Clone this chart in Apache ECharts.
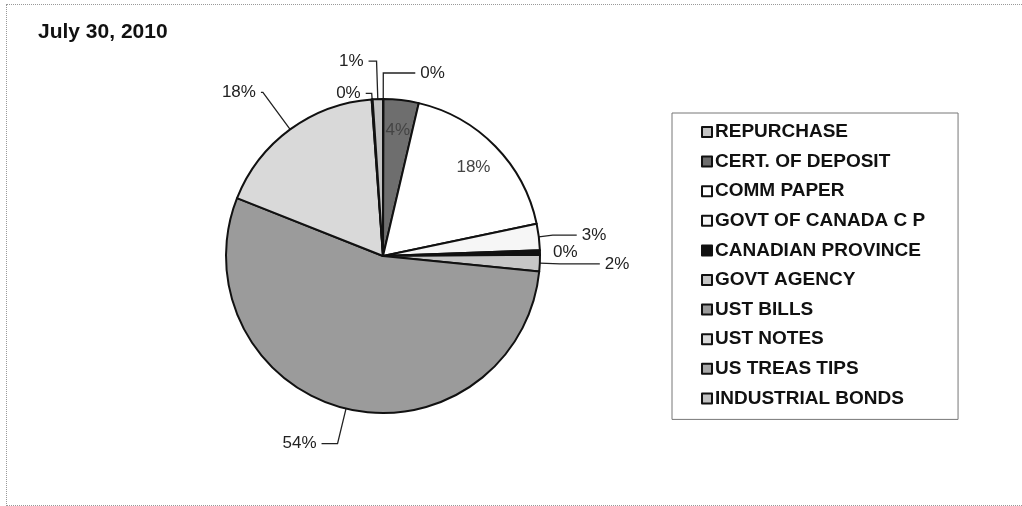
<!DOCTYPE html>
<html>
<head>
<meta charset="utf-8">
<script src="https://cdn.jsdelivr.net/npm/echarts@6/dist/echarts.min.js"></script>
<style>
  html, body { margin: 0; padding: 0; background: #fff; }
  #frame { position: absolute; left: 6px; top: 4px; width: 1040px; height: 500px; border: 1px dotted #999; }
  #myChart { position: absolute; left: 0; top: 0; width: 1022px; height: 506px; }
</style>
</head>
<body>
<div id="frame"></div>
<div id="myChart"></div>
<script>
// Holdings by category (share of portfolio, %)
var categories = ['REPURCHASE', 'CERT. OF DEPOSIT', 'COMM PAPER', 'GOVT OF CANADA C P',
  'CANADIAN PROVINCE', 'GOVT AGENCY', 'UST BILLS', 'UST NOTES', 'US TREAS TIPS', 'INDUSTRIAL BONDS'];
var shares = [0.05, 3.6, 18.0, 2.7, 0.45, 1.7, 54.3, 17.8, 0.1, 1.05];
var sliceColors = ['#c4c4c4', '#6e6e6e', '#ffffff', '#f6f6f6', '#111111',
  '#c6c6c6', '#9b9b9b', '#d9d9d9', '#a8a8a8', '#c2c2c2'];
// slices whose label sits inside the pie
var insideLabels = ['CERT. OF DEPOSIT', 'COMM PAPER'];
var chartTitle = 'July 30, 2010';

// leader line lengths per slice [first segment, second segment]
var leaderLengths = {
  'REPURCHASE': [26, 32],
  'GOVT OF CANADA C P': [14, 24],
  'CANADIAN PROVINCE': [4, 4],
  'GOVT AGENCY': [20, 40],
  'UST BILLS': [36, 16],
  'UST NOTES': [46, 2],
  'US TREAS TIPS': [6, 6],
  'INDUSTRIAL BONDS': [38, 8]
};

var myChart = echarts.init(document.getElementById('myChart'));

function pctLabel(params) {
  return Math.round(params.percent) + '%';
}

var mainData = categories.map(function (name, i) {
  var outside = insideLabels.indexOf(name) < 0;
  var len = leaderLengths[name] || [20, 12];
  return {
    name: name,
    value: shares[i],
    itemStyle: { color: sliceColors[i] },
    label: { show: outside },
    labelLine: { show: outside && len[0] + len[1] > 10, length: len[0], length2: len[1] }
  };
});

var ringData = categories.map(function (name, i) {
  return {
    name: name,
    value: shares[i],
    label: { show: insideLabels.indexOf(name) >= 0 }
  };
});

var option = {
  animation: false,
  title: {
    text: chartTitle,
    left: 33,
    top: 17,
    textStyle: { fontFamily: 'Liberation Sans', fontSize: 21, fontWeight: 'bold', color: '#111' }
  },
  legend: {
    orient: 'vertical',
    left: 672,
    top: 113,
    padding: [9, 33, 11, 29],
    itemWidth: 10,
    itemHeight: 10,
    itemGap: 9.6,
    icon: 'rect',
    borderColor: '#777',
    borderWidth: 1,
    data: categories,
    textStyle: { fontFamily: 'Liberation Sans', fontSize: 19, fontWeight: 'bold', color: '#111', lineHeight: 20, padding: [0, 0, 0, -2] }
  },
  series: [{
    name: 'Holdings',
    type: 'pie',
    center: [383, 256],
    radius: 157,
    startAngle: 90,
    clockwise: true,
    avoidLabelOverlap: false,
    itemStyle: { borderColor: '#111', borderWidth: 2 },
    label: {
      formatter: pctLabel,
      fontFamily: 'Liberation Sans',
      fontSize: 17,
      color: '#222'
    },
    labelLine: {
      lineStyle: { color: '#222', width: 1.3 }
    },
    emphasis: { disabled: true },
    data: mainData
  }, {
    name: 'Inside labels',
    type: 'pie',
    center: [383, 256],
    radius: [90, 157],
    startAngle: 90,
    clockwise: true,
    silent: true,
    itemStyle: { color: 'transparent', borderWidth: 0 },
    label: {
      position: 'inside',
      formatter: pctLabel,
      fontFamily: 'Liberation Sans',
      fontSize: 17,
      color: '#444'
    },
    labelLine: { show: false },
    emphasis: { disabled: true },
    data: ringData
  }]
};

myChart.setOption(option);
</script>
</body>
</html>
